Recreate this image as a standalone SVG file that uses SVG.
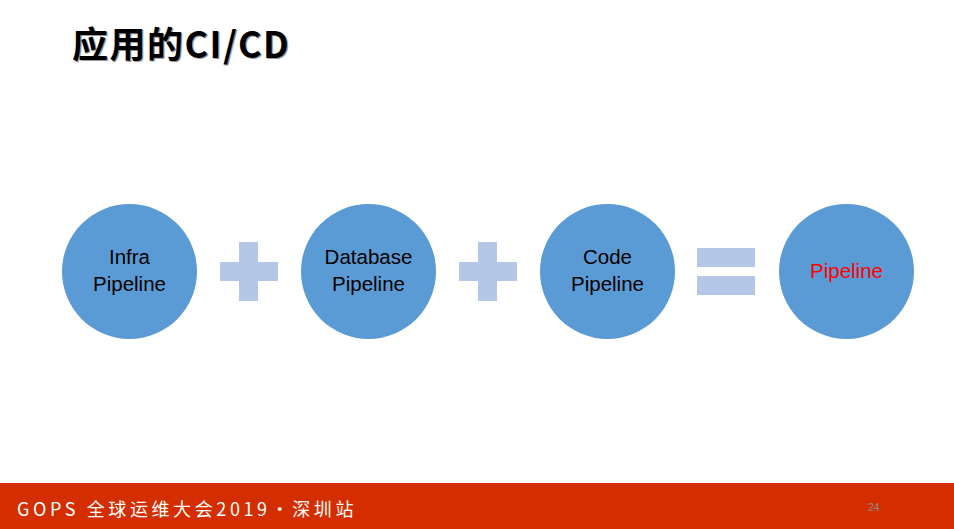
<svg xmlns="http://www.w3.org/2000/svg" width="954" height="529" viewBox="0 0 954 529">
<style>
.node circle{fill:#5B9BD5}
.lbl{font-family:"Liberation Sans","Noto Sans",sans-serif;font-size:20.5px;fill:#000;text-anchor:middle}
.op{fill:#B4C7E7}
.ttl{font-family:"Noto Sans CJK SC","Noto Sans",sans-serif;font-weight:bold;font-size:36px;letter-spacing:1.5px}
</style>
<rect width="954" height="529" fill="#fff"/>
<text class="ttl" x="72" y="58" fill="#999" transform="translate(1.2,1.2)">应用的CI/CD</text>
<text class="ttl" x="72" y="58" fill="#000">应用的CI/CD</text>
<g id="infra" class="node"><circle cx="129.5" cy="271.5" r="67.5"/><text class="lbl" x="129.5" y="264">Infra</text><text class="lbl" x="129.5" y="291">Pipeline</text></g>
<g id="database" class="node"><circle cx="368.5" cy="271.5" r="67.5"/><text class="lbl" x="368.5" y="264">Database</text><text class="lbl" x="368.5" y="291">Pipeline</text></g>
<g id="code" class="node"><circle cx="607.5" cy="271.5" r="67.5"/><text class="lbl" x="607.5" y="264">Code</text><text class="lbl" x="607.5" y="291">Pipeline</text></g>
<g id="result" class="node"><circle cx="846.5" cy="271.5" r="67.5"/><text class="lbl" x="846.5" y="278" style="fill:#FF0000">Pipeline</text></g>
<g id="connectors">
<path class="op" d="M239 242h19v20h20v19h-20v20h-19v-20h-19v-19h19z"/>
<path class="op" d="M478 242h19v20h20v19h-20v20h-19v-20h-19v-19h19z"/>
<rect class="op" x="697" y="248" width="58" height="19"/>
<rect class="op" x="697" y="276" width="58" height="19"/>
</g>
<rect x="0" y="483" width="954" height="46" fill="#D42E00"/>
<text x="17" y="516" font-family="'Noto Sans CJK SC','Noto Sans',sans-serif" font-size="18" letter-spacing="3.6" fill="#fff">GOPS 全球运维大会2019·深圳站</text>
<text x="868" y="511" font-family="'Liberation Sans',sans-serif" font-size="10.5" fill="#8C8C8C">24</text>
</svg>
